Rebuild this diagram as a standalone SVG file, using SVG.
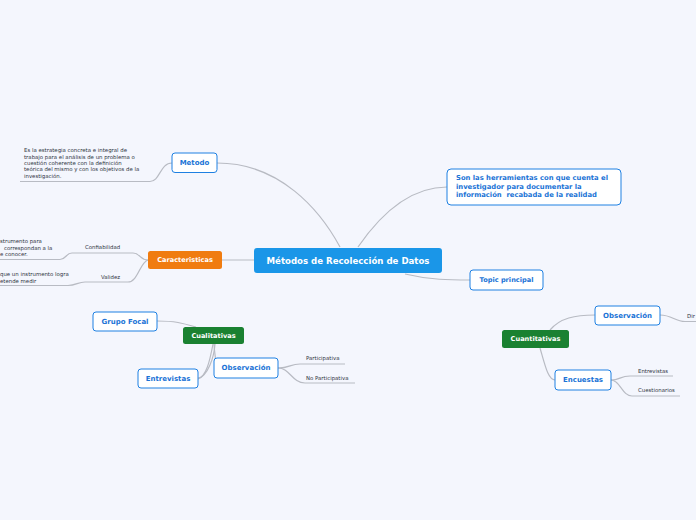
<svg xmlns="http://www.w3.org/2000/svg" width="696" height="520" viewBox="0 0 696 520">
<style>
.bg{fill:#f4f6fd}
.c{fill:none;stroke:#b8bbc3;stroke-width:1.2}
.sub{fill:#ffffff;stroke:#1e80e2;stroke-width:1}
.st{font-family:"DejaVu Sans",Verdana,sans-serif;font-weight:bold;fill:#1a73d6;text-anchor:middle;dominant-baseline:central}
.wt{font-family:"DejaVu Sans",Verdana,sans-serif;font-weight:bold;fill:#ffffff;text-anchor:middle;dominant-baseline:central}
.sm{font-family:"DejaVu Sans",Verdana,sans-serif;fill:#2e343e;font-size:5.4px;dominant-baseline:central}
</style>
<rect class="bg" x="0" y="0" width="696" height="520"/>
<g id="connectors">
  <path class="c" d="M217,163 C280,163 320,210 340,247"/>
  <path class="c" d="M20,181.5 L150,181.5 C160,181.5 160,163 172,163"/>
  <path class="c" d="M358,247 C380,215 410,187 447,187"/>
  <path class="c" d="M405,274 C430,280 450,280 470,280"/>
  <path class="c" d="M221,260 L254,260"/>
  <path class="c" d="M148,260 C140,260 140,253 133,253 L72,253 C66,253 66,259.5 60,259.5 L0,259.5"/>
  <path class="c" d="M148,260 C140,262 138,282 128,282 L85,282 C78,282 76,285.5 68,285.5 L0,285.5"/>
  <path class="c" d="M157,321 C175,321 182,323 196,327"/>
  <path class="c" d="M213,344 C210,360 206,378 198,378"/>
  <path class="c" d="M215,344 C214,358 208,375 198,379"/>
  <path class="c" d="M214,344 C215,360 218,368 214,368"/>
  <path class="c" d="M278,368 C290,368 290,364 300,364 L345,364"/>
  <path class="c" d="M278,368 C290,368 292,383 305,383 L355,383"/>
  <path class="c" d="M550,330 C560,318 575,315 595,315"/>
  <path class="c" d="M540,348 C545,365 548,380 555,380"/>
  <path class="c" d="M660,315 C672,315 675,321.5 685,321.5 L696,321.5"/>
  <path class="c" d="M611,380 C620,380 620,376 630,376 L673,376"/>
  <path class="c" d="M611,380 C620,380 622,396 632,396 L680,396"/>
</g>
<g id="central">
  <rect x="254" y="248" width="188" height="25" rx="3" fill="#1a96e8"/>
  <text class="wt" x="348" y="260.5" font-size="8.6">Métodos de Recolección de Datos</text>
</g>
<g id="metodo">
  <rect class="sub" x="172" y="153" width="45" height="19.5" rx="3"/>
  <text class="st" x="194.5" y="162.8" font-size="7">Metodo</text>
</g>
<g id="metodo-desc">
  <text class="sm" x="24" y="150">Es la estrategia concreta e integral de</text>
  <text class="sm" x="24" y="156.5">trabajo para el análisis de un problema o</text>
  <text class="sm" x="24" y="162.8">cuestión coherente con la definición</text>
  <text class="sm" x="24" y="169.2">teórica del mismo y con los objetivos de la</text>
  <text class="sm" x="24" y="175.8">investigación.</text>
</g>
<g id="herramientas">
  <rect class="sub" x="447" y="169" width="174" height="36" rx="4"/>
  <text class="st" x="456" y="178.3" font-size="6.8" style="text-anchor:start">Son las herramientas con que cuenta el</text>
  <text class="st" x="456" y="186.7" font-size="6.8" style="text-anchor:start">investigador para documentar la</text>
  <text class="st" x="456" y="195" font-size="6.8" style="text-anchor:start;white-space:pre" xml:space="preserve">información  recabada de la realidad</text>
</g>
<g id="topic">
  <rect class="sub" x="470" y="270" width="73" height="20" rx="3"/>
  <text class="st" x="506.5" y="280.3" font-size="6.6">Topic principal</text>
</g>
<g id="caracteristicas">
  <rect x="148" y="251" width="74" height="18" rx="2.5" fill="#f07c10"/>
  <text class="wt" x="185" y="260.2" font-size="6.6">Caracteristicas</text>
</g>
<g id="confiabilidad">
  <text class="sm" x="85" y="247">Confiabilidad</text>
  <text class="sm" x="0" y="241">strumento para</text>
  <text class="sm" x="4" y="247.5">correspondan a la</text>
  <text class="sm" x="0" y="254">e conocer.</text>
</g>
<g id="validez">
  <text class="sm" x="101" y="277">Validez</text>
  <text class="sm" x="0" y="273.5">que un instrumento logra</text>
  <text class="sm" x="0" y="280.5">etende medir</text>
</g>
<g id="cualitativas">
  <rect x="183" y="327" width="61" height="17" rx="2.5" fill="#1a8131"/>
  <text class="wt" x="213.5" y="335.7" font-size="6.6">Cualitativas</text>
</g>
<g id="grupo-focal">
  <rect class="sub" x="93" y="312" width="64" height="19" rx="3"/>
  <text class="st" x="125" y="321.7" font-size="7">Grupo Focal</text>
</g>
<g id="entrevistas">
  <rect class="sub" x="138" y="369" width="60" height="19" rx="3"/>
  <text class="st" x="168" y="378.7" font-size="7">Entrevistas</text>
</g>
<g id="observacion-l">
  <rect class="sub" x="214" y="358" width="64" height="20" rx="3"/>
  <text class="st" x="246" y="368.2" font-size="7">Observación</text>
</g>
<g id="participativa">
  <text class="sm" x="306" y="358">Participativa</text>
</g>
<g id="no-participativa">
  <text class="sm" x="306" y="378">No Participativa</text>
</g>
<g id="cuantitativas">
  <rect x="502" y="330" width="67" height="18" rx="2.5" fill="#1a8131"/>
  <text class="wt" x="535.5" y="339.2" font-size="6.6">Cuantitativas</text>
</g>
<g id="observacion-r">
  <rect class="sub" x="595" y="306" width="65" height="19" rx="3"/>
  <text class="st" x="627.5" y="315.7" font-size="7">Observación</text>
</g>
<g id="dir">
  <text class="sm" x="687" y="316">Dir</text>
</g>
<g id="encuestas">
  <rect class="sub" x="555" y="370" width="56" height="20" rx="3"/>
  <text class="st" x="583" y="380.3" font-size="7">Encuestas</text>
</g>
<g id="entrevistas-r">
  <text class="sm" x="638" y="371">Entrevistas</text>
</g>
<g id="cuestionarios">
  <text class="sm" x="638" y="390">Cuestionarios</text>
</g>
</svg>
